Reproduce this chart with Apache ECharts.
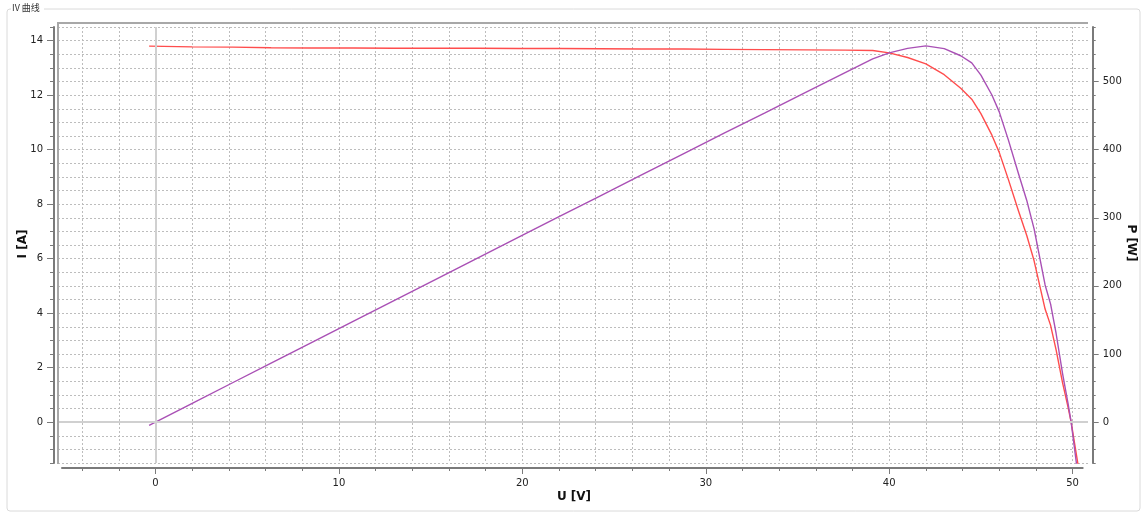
<!DOCTYPE html>
<html>
<head>
<meta charset="utf-8">
<script src="https://cdn.jsdelivr.net/npm/echarts@6/dist/echarts.min.js"></script>
<style>
html,body{margin:0;padding:0;background:#fff;}
#c{width:1145px;height:513px;}
</style>
</head>
<body>
<div id="c"></div>
<script>
// ---- data ----
const title = 'IV 曲线';
const xName = 'U [V]';
const yNameLeft = 'I [A]';
const yNameRight = 'P [W]';
const U = [-0.35, 2.0, 4.2, 6.3, 8.5, 10.8, 13.0, 15.2, 17.5, 19.8, 22.0, 24.2, 26.5, 28.8, 31.0, 33.2, 35.5, 37.6, 39.1, 40.0, 41.0, 42.0, 43.0, 43.9, 44.5, 45.0, 45.6, 46.0, 46.5, 47.05, 47.5, 47.9, 48.5, 48.8, 49.1, 49.45, 49.75, 49.92, 50.4];
const I = [13.80, 13.77, 13.76, 13.74, 13.73, 13.73, 13.72, 13.72, 13.72, 13.71, 13.71, 13.70, 13.69, 13.69, 13.68, 13.67, 13.66, 13.65, 13.64, 13.55, 13.38, 13.15, 12.75, 12.25, 11.85, 11.32, 10.53, 9.90, 8.90, 7.75, 6.85, 5.92, 4.15, 3.55, 2.65, 1.45, 0.55, 0.0, -2.0];
const P = [-4.8, 27.5, 57.8, 86.6, 116.7, 148.3, 178.4, 208.5, 240.1, 271.5, 301.6, 331.5, 362.8, 394.3, 424.1, 453.6, 484.9, 513.2, 533.3, 542.0, 548.6, 552.3, 548.3, 537.8, 527.3, 509.4, 480.2, 455.4, 413.9, 364.6, 325.4, 283.6, 201.3, 173.2, 130.1, 71.7, 27.4, 0, -100.8];
const xMinorTicks = [-4, -2, 0, 2, 4, 6, 8, 10, 12, 14, 16, 18, 20, 22, 24, 26, 28, 30, 32, 34, 36, 38, 40, 42, 44, 46, 48, 50];
const xLabels = [0, 10, 20, 30, 40, 50];
const iLabels = [0, 2, 4, 6, 8, 10, 12, 14];
const pLabels = [0, 100, 200, 300, 400, 500];

const chart = echarts.init(document.getElementById('c'), null, {renderer: 'canvas'});
const font = 'DejaVu Sans';
const axisCol = '#7a7a7a';
const labelStyle = {color: '#222', fontFamily: font, fontSize: 10};
const dotted = {color: '#bdbdbd', type: [2, 2], width: 1};

const X_MIN = -5.1, X_MAX = 50.55;
const I_MIN = -1.5, I_MAX = 14.5;
const P_MIN = -60, P_MAX = 580;

// data grid geometry (px)
const GL = 62, GR = 62.3, GT = 27, GH = 436;
const pxPerV = (1145 - GL - GR) / (X_MAX - X_MIN);
// wider helper grid whose ends fall on multiples of 2 V, for the vertical dotted lines
const VG_MIN = -6, VG_MAX = 52;
const vgLeft = GL - (X_MIN - VG_MIN) * pxPerV;
const vgRight = 1145 - (vgLeft + (VG_MAX - VG_MIN) * pxPerV);

const hidden = {axisLine: {show: false, onZero: false}, axisTick: {show: false}, axisLabel: {show: false}, splitLine: {show: false}};

const option = {
  animation: false,
  backgroundColor: '#fff',
  grid: [
    {left: 58, right: 57, top: GT, height: GH},
    {left: GL, right: GR, top: GT, height: GH},
    {left: vgLeft, right: vgRight, top: GT, height: GH}
  ],
  xAxis: [
    {gridIndex: 0, type: 'value', min: 0, max: 1, ...hidden},
    {gridIndex: 1, type: 'value', min: X_MIN, max: X_MAX, position: 'bottom', offset: 5,
      axisLine: {show: true, onZero: false, lineStyle: {color: axisCol, width: 2}},
      axisTick: {show: true, length: 3, customValues: xMinorTicks, lineStyle: {color: axisCol}},
      axisLabel: {show: true, customValues: xLabels, margin: 10, ...labelStyle},
      splitLine: {show: false}
    },
    {gridIndex: 1, type: 'value', min: X_MIN, max: X_MAX, position: 'bottom', offset: 5,
      axisLine: {show: false, onZero: false},
      axisTick: {show: true, length: 6, customValues: xLabels, lineStyle: {color: axisCol}},
      axisLabel: {show: false},
      splitLine: {show: false}
    },
    {gridIndex: 2, type: 'value', min: VG_MIN, max: VG_MAX, interval: 2,
      axisLine: {show: false, onZero: false}, axisTick: {show: false}, axisLabel: {show: false},
      splitLine: {show: true, showMinLine: false, showMaxLine: false, lineStyle: dotted}
    }
  ],
  yAxis: [
    {gridIndex: 0, type: 'value', min: I_MIN, max: I_MAX, interval: 0.5,
      axisLine: {show: false, onZero: false}, axisTick: {show: false}, axisLabel: {show: false},
      splitLine: {show: true, lineStyle: dotted}
    },
    {gridIndex: 1, type: 'value', min: I_MIN, max: I_MAX, interval: 0.5, position: 'left', offset: 8,
      axisLine: {show: true, onZero: false, lineStyle: {color: axisCol, width: 2}},
      axisTick: {show: true, length: 4, lineStyle: {color: axisCol}},
      axisLabel: {show: false},
      splitLine: {show: false}
    },
    {gridIndex: 1, type: 'value', min: P_MIN, max: P_MAX, interval: 20, position: 'right', offset: 10,
      axisLine: {show: true, onZero: false, lineStyle: {color: axisCol, width: 2}},
      axisTick: {show: true, length: 3, lineStyle: {color: axisCol}},
      axisLabel: {show: false},
      splitLine: {show: false}
    },
    {gridIndex: 1, type: 'value', min: I_MIN, max: I_MAX, position: 'left', offset: 8,
      axisLine: {show: false, onZero: false},
      axisTick: {show: true, length: 7, customValues: iLabels, lineStyle: {color: axisCol}},
      axisLabel: {show: true, customValues: iLabels, margin: 11, ...labelStyle},
      splitLine: {show: false}
    },
    {gridIndex: 1, type: 'value', min: P_MIN, max: P_MAX, position: 'right', offset: 10,
      axisLine: {show: false, onZero: false},
      axisTick: {show: true, length: 6, customValues: pLabels, lineStyle: {color: axisCol}},
      axisLabel: {show: true, customValues: pLabels, margin: 10, ...labelStyle},
      splitLine: {show: false}
    },
    {gridIndex: 2, type: 'value', min: 0, max: 1, ...hidden}
  ],
  series: [
    {type: 'line', xAxisIndex: 0, yAxisIndex: 0, data: [], silent: true,
      markLine: {silent: true, symbol: 'none', label: {show: false},
        lineStyle: {color: '#d0d0d0', type: 'solid', width: 2},
        data: [[{coord: [0, 0]}, {coord: [1, 0]}]]}
    },
    {type: 'line', xAxisIndex: 3, yAxisIndex: 5, data: [], silent: true},
    {type: 'line', name: 'I', xAxisIndex: 1, yAxisIndex: 1, symbol: 'none', smooth: false,
      data: U.map((u, k) => [u, I[k]]),
      lineStyle: {color: '#ff4d4d', width: 1.4}, itemStyle: {color: '#ff4d4d'},
      markLine: {silent: true, symbol: 'none', label: {show: false},
        lineStyle: {color: '#d0d0d0', type: 'solid', width: 2},
        data: [{xAxis: 0}]},
      z: 3
    },
    {type: 'line', name: 'P', xAxisIndex: 1, yAxisIndex: 2, symbol: 'none', smooth: false,
      data: U.map((u, k) => [u, P[k]]),
      lineStyle: {color: '#a950b5', width: 1.4}, itemStyle: {color: '#a950b5'},
      z: 4
    }
  ],
  graphic: [
    {type: 'rect', silent: true, z: -10, shape: {x: 7, y: 9, width: 1133, height: 502, r: 3},
      style: {fill: 'none', stroke: '#dadada', lineWidth: 1}},
    {type: 'rect', silent: true, z: -9, shape: {x: 11, y: 3, width: 33, height: 12},
      style: {fill: '#fff'}},
    {type: 'text', silent: true, z: 10, left: 12, top: 3,
      style: {text: title, fill: '#333', font: '9px "Noto Sans CJK SC", sans-serif'}},
    {type: 'line', silent: true, z: 20, shape: {x1: 57, y1: 23, x2: 1088, y2: 23},
      style: {stroke: '#a8a8a8', lineWidth: 2}},
    {type: 'line', silent: true, z: 20, shape: {x1: 58, y1: 22, x2: 58, y2: 464},
      style: {stroke: '#a8a8a8', lineWidth: 2}},
    {type: 'text', silent: true, z: 10, x: 23, y: 244, rotation: Math.PI / 2,
      style: {text: yNameLeft, fill: '#111', font: 'bold 12px "DejaVu Sans"', align: 'center', verticalAlign: 'middle'}},
    {type: 'text', silent: true, z: 10, x: 1131, y: 243, rotation: -Math.PI / 2,
      style: {text: yNameRight, fill: '#111', font: 'bold 12px "DejaVu Sans"', align: 'center', verticalAlign: 'middle'}},
    {type: 'text', silent: true, z: 10, x: 574, y: 497,
      style: {text: xName, fill: '#111', font: 'bold 12px "DejaVu Sans"', align: 'center', verticalAlign: 'middle'}}
  ]
};
chart.setOption(option);
</script>
</body>
</html>
